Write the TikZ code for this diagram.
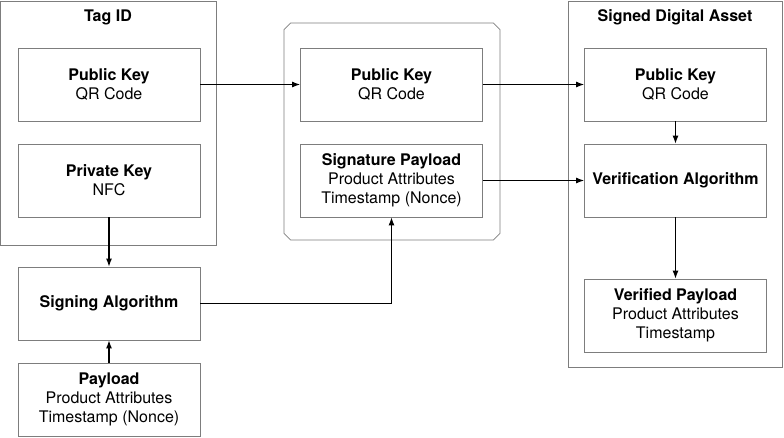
\documentclass[tikz,border=0pt]{standalone}
\usepackage{fontspec}
\setmainfont{TeX Gyre Heros}
\usetikzlibrary{shapes.misc,arrows.meta}
\definecolor{boxgray}{RGB}{125,125,125}

\tikzset{
  block/.style={draw=boxgray, line width=0.8pt, minimum width=182pt, minimum height=73pt,
    align=center, font=\fontsize{16}{19}\selectfont},
  frame/.style={draw=boxgray, line width=0.8pt},
  title/.style={font=\fontsize{16}{19}\selectfont\bfseries},
  flow/.style={-{Latex[length=8pt,width=6pt]}, line width=1.1pt},
}

\begin{document}
\begin{tikzpicture}[x=1pt, y=-1pt]
  \useasboundingbox (0,0) rectangle (784,437);
  % containers
  \node[frame, minimum width=216pt, minimum height=244pt] (tagid) at (108,123) {};
  \node[title] (tagtitle) at (108,17) {Tag ID};
  \node[frame, chamfered rectangle, chamfered rectangle xsep=8pt, chamfered rectangle ysep=8pt,
    minimum width=216pt, minimum height=217pt] (bundle) at (392,131.5) {};
  \node[frame, minimum width=214pt, minimum height=366pt] (asset) at (675,184) {};
  \node[title] (assettitle) at (675,17) {Signed Digital Asset};
  % left column
  \node[block] (lpub) at (109,84.5) {\textbf{Public Key}\\QR Code};
  \node[block] (lpriv) at (109,180.5) {\textbf{Private Key}\\NFC};
  \node[block] (sign) at (109,303.5) {\textbf{Signing Algorithm}};
  \node[block] (payload) at (109,399.5) {\textbf{Payload}\\Product Attributes\\Timestamp (Nonce)};
  % middle column
  \node[block] (mpub) at (391.5,84.5) {\textbf{Public Key}\\QR Code};
  \node[block] (msig) at (391.5,180.5) {\textbf{Signature Payload}\\Product Attributes\\Timestamp (Nonce)};
  % right column
  \node[block] (rpub) at (675.5,84.5) {\textbf{Public Key}\\QR Code};
  \node[block] (verify) at (675.5,180.5) {\textbf{Verification Algorithm}};
  \node[block] (verified) at (675.5,315.5) {\textbf{Verified Payload}\\Product Attributes\\Timestamp};
  % connectors
  \draw[flow] (lpub) -- (mpub);
  \draw[flow] (mpub) -- (rpub);
  \draw[flow] (msig) -- (verify);
  \draw[flow] (lpriv) -- (sign);
  \draw[flow] (payload) -- (sign);
  \draw[flow] (sign.east) -| (msig.south);
  \draw[flow] (rpub) -- (verify);
  \draw[flow] (verify) -- (verified);
\end{tikzpicture}
\end{document}
